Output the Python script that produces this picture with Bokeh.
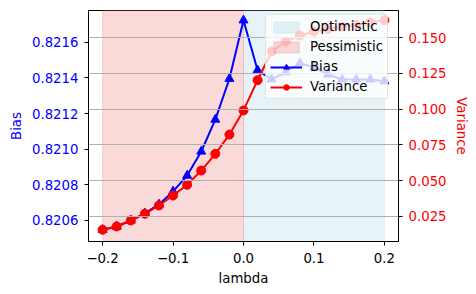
from bokeh.plotting import figure
from bokeh.models import (Range1d, LinearAxis, FixedTicker, PrintfTickFormatter,
                          CustomJSTickFormatter, Grid, Legend, LegendItem)
from bokeh.embed import file_html
from bokeh.resources import INLINE

# ---------------- data ----------------
lam = [-0.20, -0.18, -0.16, -0.14, -0.12, -0.10, -0.08, -0.06, -0.04, -0.02,
       0.00, 0.02, 0.04, 0.06, 0.08, 0.10, 0.12, 0.14, 0.16, 0.18, 0.20]
bias = [0.820548, 0.820566, 0.820600, 0.820640, 0.820690, 0.820763, 0.820852,
        0.820987, 0.821166, 0.821395, 0.821723, 0.821443, 0.821391, 0.821432,
        0.821482, 0.821460, 0.821419, 0.821391, 0.821391, 0.821391, 0.821381]
variance = [0.0155, 0.0178, 0.0220, 0.0267, 0.0325, 0.0395, 0.0470, 0.0570,
            0.0687, 0.0822, 0.0991, 0.1203, 0.1404, 0.1474, 0.1516, 0.1544,
            0.1562, 0.1578, 0.1590, 0.1607, 0.1623]
lam_ticks = [-0.2, -0.1, 0.0, 0.1, 0.2]
bias_ticks = [0.8206, 0.8208, 0.8210, 0.8212, 0.8214, 0.8216]
var_ticks = [0.025, 0.050, 0.075, 0.100, 0.125, 0.150]
region_names = ["Optimistic", "Pessimistic"]
region_start = [0.0, -0.2]
region_end = [0.2, 0.0]
region_colors = ["lightblue", "lightcoral"]

# axis limits
x_lo, x_hi = -0.22, 0.22
b_lo, b_hi = 0.820482, 0.821778
v_lo, v_hi = 0.00727, 0.16913

FONT = "DejaVu Sans"
FS = "13.3px"

p = figure(frame_width=310, frame_height=231, output_backend="svg",
           toolbar_location=None,
           x_range=Range1d(x_lo, x_hi), y_range=Range1d(b_lo, b_hi),
           min_border_left=88, min_border_right=68, min_border_top=10,
           min_border_bottom=43)
p.background_fill_color = "white"
p.border_fill_color = "white"
p.outline_line_color = "black"
p.outline_line_width = 1
p.outline_line_alpha = 1
p.xgrid.visible = False
p.ygrid.visible = False

p.extra_y_ranges = {"var": Range1d(v_lo, v_hi)}

# shaded regions
shade = []
for name, s, e, c in zip(region_names, region_start, region_end, region_colors):
    r = p.quad(left=[s], right=[e], bottom=[b_lo], top=[b_hi],
               fill_color=c, fill_alpha=0.3, line_color=c, line_alpha=0.3,
               line_width=1)
    r.level = "underlay"
    shade.append((name, r))

# grid from the variance axis
grid = Grid(dimension=1, ticker=FixedTicker(ticks=var_ticks), y_range_name="var",
            grid_line_color="#b0b0b0", grid_line_width=1, level="glyph")
p.add_layout(grid, "center")

# lines
bl = p.line(lam, bias, line_color="blue", line_width=2)
bs = p.scatter(lam, bias, marker="triangle", size=9, fill_color="blue",
               line_color="blue")
vl = p.line(lam, variance, line_color="red", line_width=2, y_range_name="var")
vs = p.scatter(lam, variance, marker="circle", size=9, fill_color="red",
               line_color="red", y_range_name="var")

# axes
def style_axis(ax, color):
    ax.axis_line_color = "black"
    ax.major_tick_line_color = "black"
    ax.minor_tick_line_color = None
    ax.major_tick_out = 4
    ax.major_tick_in = 0
    ax.major_label_text_font = FONT
    ax.major_label_text_font_size = FS
    ax.major_label_text_color = color
    ax.axis_label_text_font = FONT
    ax.axis_label_text_font_size = FS
    ax.axis_label_text_font_style = "normal"
    ax.axis_label_text_color = color
    ax.major_label_standoff = 6

xa = p.xaxis[0]
xa.ticker = FixedTicker(ticks=lam_ticks)
xa.formatter = CustomJSTickFormatter(code="return tick.toFixed(1).replace('-', '\u2212');")
xa.axis_label = "lambda"
style_axis(xa, "black")
xa.major_label_standoff = 7
xa.axis_label_standoff = 5

ya = p.yaxis[0]
ya.ticker = FixedTicker(ticks=bias_ticks)
ya.formatter = PrintfTickFormatter(format="%.4f")
ya.axis_label = "Bias"
style_axis(ya, "blue")
ya.axis_label_standoff = 5

ra = LinearAxis(y_range_name="var", ticker=FixedTicker(ticks=var_ticks),
                formatter=PrintfTickFormatter(format="%.3f"), axis_label="Variance")
style_axis(ra, "red")
ra.axis_label_standoff = 4
p.add_layout(ra, "right")

# legend
items = [LegendItem(label=n, renderers=[r]) for n, r in shade]
items.append(LegendItem(label="Bias", renderers=[bl, bs]))
items.append(LegendItem(label="Variance", renderers=[vl, vs]))
legend = Legend(items=items, location=(177, 142),
                label_text_font=FONT, label_text_font_size=FS,
                label_text_color="black",
                glyph_width=32, glyph_height=14, label_height=14,
                label_standoff=8, spacing=5, padding=4, margin=0,
                border_line_color="#cccccc", border_line_width=1,
                background_fill_color="white", background_fill_alpha=0.8)
p.add_layout(legend, "center")

open("out.html", "w").write(file_html(p, INLINE))
